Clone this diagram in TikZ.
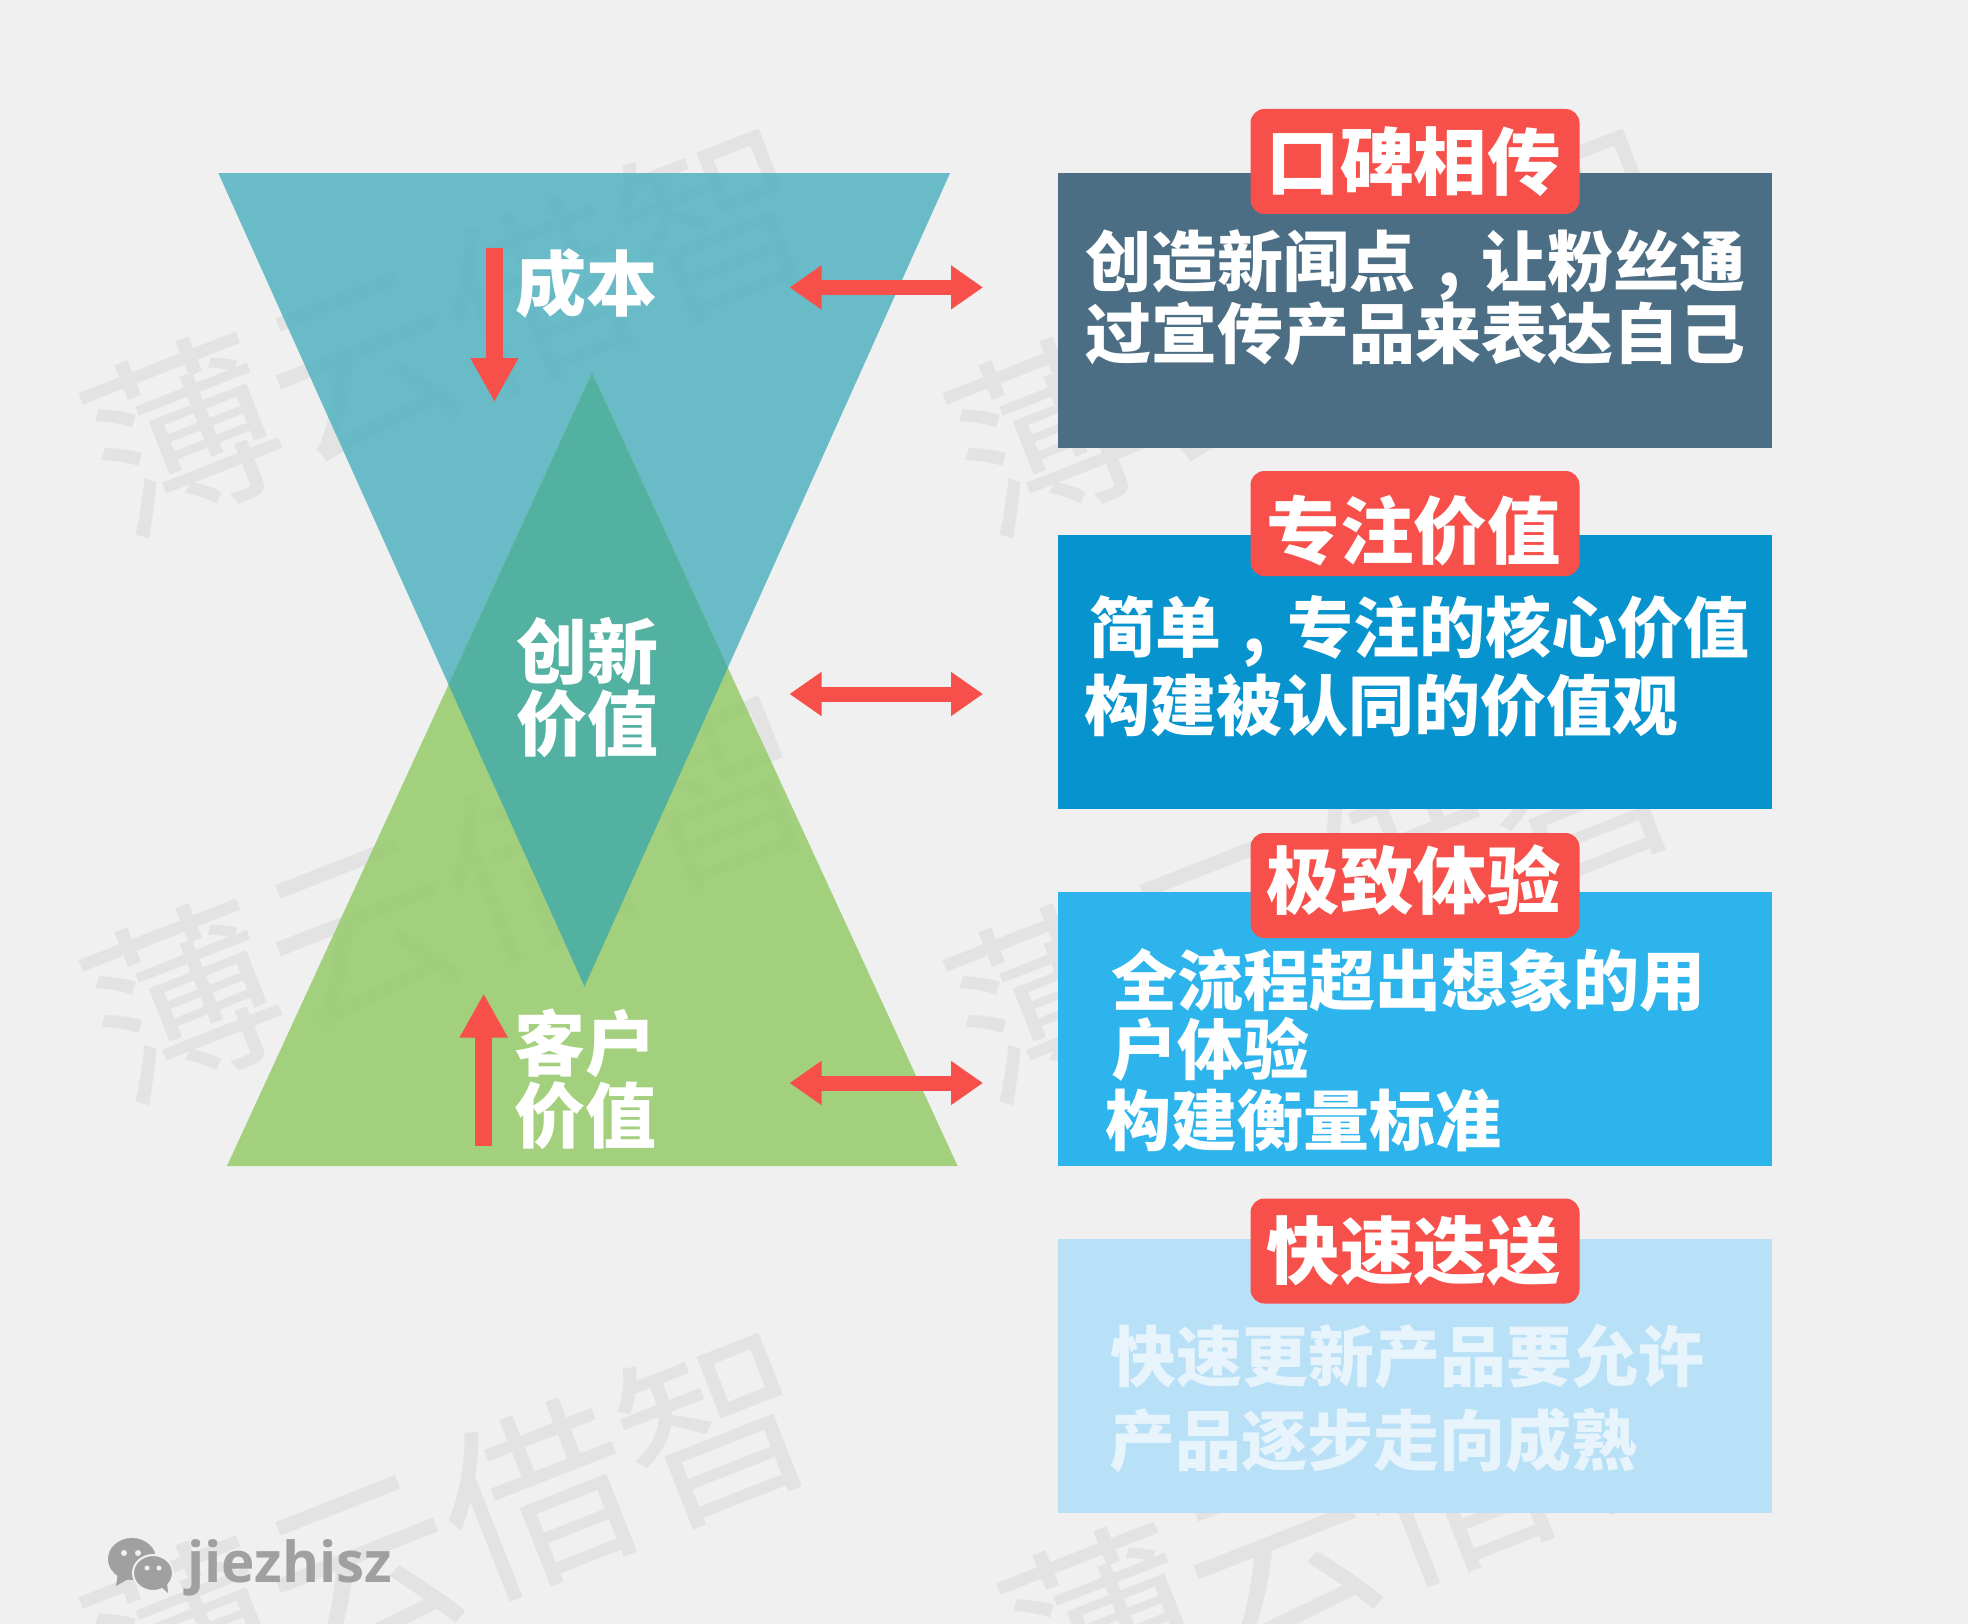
\documentclass[tikz,border=0pt]{standalone}
\usepackage{fontspec}
\usepackage{tikz}
\usetikzlibrary{arrows.meta}
\newfontfamily\cjkheavy{Noto Sans CJK SC Black}
\newfontfamily\cjkthin{Noto Sans CJK SC}
\newfontfamily\latinbold{Open Sans Bold}
\newcommand{\cmark}{\makebox[1em][c]{,}}
\definecolor{clrpage}{HTML}{F0F0F0}
\definecolor{clrmark}{HTML}{E3E3E3}
\definecolor{clrred}{HTML}{F7504A}
\definecolor{clrtop}{HTML}{58B4C3}
\definecolor{clrlow}{HTML}{98CC6E}
\definecolor{clrmid}{HTML}{52B1A1}
\definecolor{clrboxa}{HTML}{4C6E84}
\definecolor{clrboxb}{HTML}{0693CE}
\definecolor{clrboxc}{HTML}{2DB4EC}
\definecolor{clrboxd}{HTML}{B8E0F7}
\definecolor{clrfour}{HTML}{E8F4FC}
\definecolor{clrlogo}{HTML}{A0A0A0}
\tikzset{
    markword/.style={inner sep=0, rotate=21.5, text=clrmark, font=\fontsize{190}{190}\cjkthin},
    linetext/.style={inner sep=0, anchor=west, text=white, font=\fontsize{66}{66}\cjkheavy},
    sidetext/.style={inner sep=0, anchor=west, text=white, font=\fontsize{71}{71}\cjkheavy},
    tagbox/.style={fill=clrred, rounded corners=14pt, minimum width=329pt, minimum height=105pt, inner sep=0, text=white, font=\fontsize{73.5}{73.5}\cjkheavy},
    bigarrow/.style={clrred, line width=17pt, -{Triangle[length=44pt,width=45pt]}},
    twoarrow/.style={clrred, line width=15pt, {Triangle[length=32pt,width=42pt]}-{Triangle[length=32pt,width=42pt]}}
}

\begin{document}
\begin{tikzpicture}[x=1pt, y=-1pt]
    \useasboundingbox (0,0) rectangle (1968,1624);
    \fill[clrpage] (0,0) rectangle (1968,1624);

    % watermark
    \foreach \i/\xpos/\ypos in {1/450/328, 2/450/895, 3/450/1532, 4/1314/328, 5/1314/895, 6/1368/1518} {
        \node[markword] (mark\i) at (\xpos,\ypos) {薄云借智};
    }

    \coordinate (topa) at (218.4,173.2);
    \coordinate (topb) at (950,173.2);
    \coordinate (topc) at (584.5,986.5);
    \coordinate (lowa) at (227,1166);
    \coordinate (lowb) at (957.6,1166);
    \coordinate (lowc) at (592,373);

    \fill[clrtop, opacity=.88] (topa) -- (topb) -- (topc) -- cycle;
    \fill[clrlow, opacity=.88] (lowa) -- (lowb) -- (lowc) -- cycle;
    \begin{scope}
        \clip (topa) -- (topb) -- (topc) -- cycle;
        \fill[clrmid] (lowa) -- (lowb) -- (lowc) -- cycle;
    \end{scope}

    % boxes on the right
    \fill[clrboxa] (1058.4,173) rectangle (1772,447.5);
    \fill[clrboxb] (1058.4,534.5) rectangle (1772,808.5);
    \fill[clrboxc] (1058.4,891.5) rectangle (1772,1166);
    \fill[clrboxd] (1058.4,1239) rectangle (1772,1512.5);

    \node[tagbox] (tagone) at (1415,161.5) {\hspace{-3pt}口碑相传};
    \node[tagbox] (tagtwo) at (1415,523.5) {\hspace{-3pt}\raisebox{-7.5pt}[\height][\depth]{专注价值}};
    \node[tagbox] (tagthree) at (1415,885.5) {\hspace{-3pt}\raisebox{5pt}[\height][\depth]{极致体验}};
    \node[tagbox] (tagfour) at (1415,1251) {\hspace{-3pt}快速迭送};

    \node[linetext] (onea) at (1085.7,265.5) {创造新闻点\cmark 让粉丝通};
    \node[linetext] (oneb) at (1085.7,334) {过宣传产品来表达自己};
    \node[linetext] (twoa) at (1089,631) {简单\cmark 专注的核心价值};
    \node[linetext] (twob) at (1084,706) {构建被认同的价值观};
    \node[linetext] (threea) at (1111,980) {全流程超出想象的用};
    \node[linetext] (threeb) at (1111,1049.5) {户体验};
    \node[linetext] (threec) at (1105,1120) {构建衡量标准};
    \node[linetext, text=clrfour] (foura) at (1110,1357) {快速更新产品要允许};
    \node[linetext, text=clrfour] (fourb) at (1109,1440) {产品逐步走向成熟};

    \node[sidetext] (cost) at (515,283) {成本};
    \node[sidetext] (newa) at (516.5,651) {创新};
    \node[sidetext] (newb) at (516.5,724) {价值};
    \node[sidetext] (usera) at (514,1043) {客户};
    \node[sidetext] (userb) at (514.5,1116) {价值};

    % arrows
    \coordinate (downa) at (494.4,248);
    \coordinate (downb) at (494.4,402);
    \coordinate (upa) at (483.7,1146);
    \coordinate (upb) at (483.7,993.5);
    \draw[bigarrow] (downa) -- (downb);
    \draw[bigarrow] (upa) -- (upb);
    \foreach \i/\ypos in {1/287.4, 2/694, 3/1083} {
        \coordinate (linka\i) at (789.5,\ypos);
        \coordinate (linkb\i) at (983,\ypos);
        \draw[twoarrow] (linka\i) -- (linkb\i);
    }

    % logo
    \fill[clrlogo] (132,1559) ellipse (24pt and 21pt);
    \fill[clrlogo] (118,1573) -- (116,1586) -- (130,1578) -- cycle;
    \fill[clrlogo, draw=clrpage, line width=2pt] (153,1573) ellipse (20pt and 18pt);
    \fill[clrlogo] (160,1586) -- (168,1593) -- (167,1582) -- cycle;
    \fill[clrpage] (124,1553) circle (3pt) (138,1553) circle (3pt) (147,1568) circle (2.5pt) (159,1568) circle (2.5pt);
    \node[inner sep=0, anchor=base west, text=clrlogo, font=\fontsize{56.5}{56.5}\latinbold] (logotext) at (187,1582) {jiezhisz};
\end{tikzpicture}
\end{document}
